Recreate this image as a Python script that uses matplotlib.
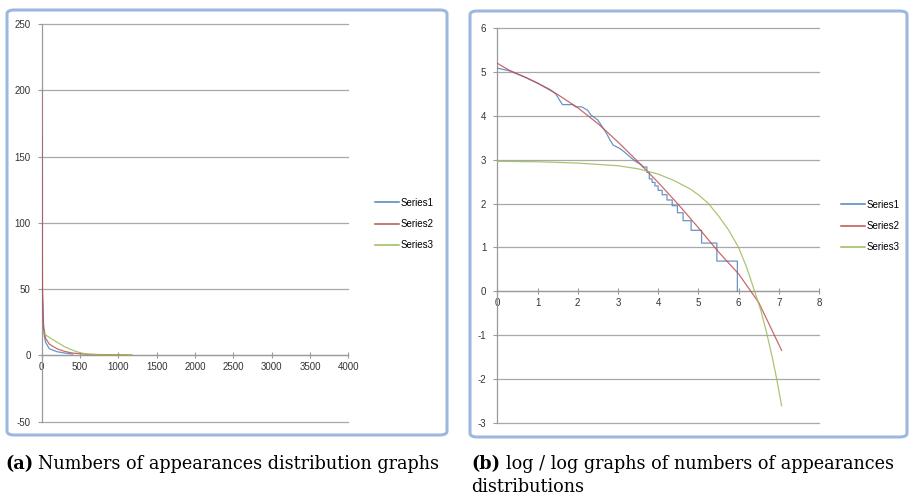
# =============================================================================
# GRAFICOS DE APARICIONES (lineal y log/log) - estilo Excel 2007
# =============================================================================
import matplotlib
matplotlib.use("Agg")
import matplotlib.pyplot as plt
from matplotlib.patches import FancyBboxPatch
from matplotlib.lines import Line2D

# =============================================================================
# DATOS
# =============================================================================

SERIES = ["Series1", "Series2", "Series3"]
COLORES = ["#4F81BD", "#C0504D", "#9BBB59"]

# (a) numeros de apariciones
a_x1 = [1, 10, 25, 50, 100, 200, 300, 403]
a_y1 = [165, 45, 18, 10, 5, 2.8, 1.8, 1]
a_x2 = [1, 10, 25, 50, 100, 200, 300, 400, 600, 1176]
a_y2 = [200, 50, 22, 13, 8.5, 5, 3, 1.8, 0.8, 0.26]
a_x3 = [1, 40, 100, 200, 300, 400, 500, 600, 800, 1176]
a_y3 = [19.3, 16, 13.5, 10, 6.5, 4, 2, 1, 0.4, 0.1]

# (b) log / log
b_x1 = [0, 0.3, 0.7, 1.0, 1.3, 1.45, 1.55, 1.62, 1.88, 1.95, 2.1, 2.25, 2.32,
        2.5, 2.7, 2.8, 2.88, 3.05, 3.15, 3.3, 3.45, 3.55, 3.63,
        3.72, 3.72, 3.78, 3.78, 3.85, 3.85, 3.92, 3.92, 4.0, 4.0, 4.1, 4.1,
        4.22, 4.22, 4.35, 4.35, 4.48, 4.48, 4.62, 4.62, 4.82, 4.82, 5.08,
        5.08, 5.46, 5.46, 5.97, 5.97]
b_y1 = [5.08, 5.02, 4.87, 4.74, 4.6, 4.5, 4.35, 4.25, 4.25, 4.2, 4.2, 4.12, 4.02,
        3.9, 3.62, 3.45, 3.33, 3.25, 3.18, 3.06, 2.95, 2.9, 2.83,
        2.83, 2.71, 2.71, 2.56, 2.56, 2.48, 2.48, 2.40, 2.40, 2.30, 2.30, 2.20,
        2.20, 2.08, 2.08, 1.95, 1.95, 1.79, 1.79, 1.61, 1.61, 1.39, 1.39,
        1.10, 1.10, 0.69, 0.69, 0.0]
b_x2 = [0, 0.3, 0.7, 1.0, 1.5, 2.0, 2.5, 3.0, 3.5, 4.0, 4.5, 5.0, 5.5, 6.0, 6.5, 7.07]
b_y2 = [5.19, 5.03, 4.87, 4.74, 4.48, 4.18, 3.82, 3.40, 2.95, 2.48, 1.98, 1.45,
        0.90, 0.40, -0.25, -1.34]
b_x3 = [0, 1, 2, 3, 3.5, 4, 4.4, 4.8, 5.0, 5.25, 5.5, 5.75, 6.0, 6.2, 6.4,
        6.55, 6.7, 6.85, 6.95, 7.07]
b_y3 = [2.96, 2.95, 2.92, 2.86, 2.79, 2.67, 2.52, 2.33, 2.20, 2.0, 1.72, 1.40,
        1.0, 0.55, 0.0, -0.42, -0.95, -1.55, -2.0, -2.6]

X_TICKS_A = list(range(0, 4001, 500))
Y_TICKS_A = list(range(-50, 251, 50))
X_TICKS_B = list(range(0, 9))
Y_TICKS_B = list(range(-3, 7))

CAPTION_A = "Numbers of appearances distribution graphs"
CAPTION_B1 = "log / log graphs of numbers of appearances"
CAPTION_B2 = "distributions"

# =============================================================================
# CONFIGURACIÓN
# =============================================================================
W, H = 909, 497
GRIS_GRID = "#A8A8A8"
GRIS_EJE = "#9A9A9A"
BORDE = "#9DB8DE"

plt.rcParams.update({
    "font.family": ["Liberation Sans", "DejaVu Sans"],
    "font.size": 7,
    "axes.unicode_minus": False,
})


def fx(px):
    return px / W


def fy(py):
    return (H - py) / H


def estilo_excel(ax, xlim, ylim, xticks, yticks):
    ax.set_xlim(*xlim)
    ax.set_ylim(*ylim)
    ax.set_xticks(xticks)
    ax.set_yticks(yticks)
    ax.set_facecolor("none")
    for s in ("top", "right"):
        ax.spines[s].set_visible(False)
    ax.spines["bottom"].set_position(("data", 0))
    for s in ("bottom", "left"):
        ax.spines[s].set_color(GRIS_EJE)
        ax.spines[s].set_linewidth(0.9)
    ax.yaxis.grid(True, color=GRIS_GRID, linewidth=0.9)
    for gl in ax.get_ygridlines():
        gl.set_clip_on(False)
    ax.set_axisbelow(True)
    ax.tick_params(axis="x", direction="inout", length=4, color=GRIS_EJE,
                   labelsize=7, pad=3, labelcolor="#333333")
    ax.tick_params(axis="y", direction="out", length=3, color=GRIS_EJE,
                   labelsize=7, pad=5, labelcolor="#333333")


def leyenda(fig, x_px, y_px):
    handles = [Line2D([], [], color=c, lw=1.1) for c in COLORES]
    fig.legend(handles, SERIES, loc="center left",
               bbox_to_anchor=(fx(x_px), fy(y_px)), frameon=False,
               fontsize=7, handlelength=2.5, handletextpad=0.15,
               labelspacing=1.15, borderpad=0, borderaxespad=0)


def marco(fig, x0, y0, x1, y1):
    p = FancyBboxPatch((fx(x0), fy(y1)), fx(x1) - fx(x0), fy(y0) - fy(y1),
                       boxstyle="round,pad=0,rounding_size=0.008",
                       transform=fig.transFigure, facecolor="white",
                       edgecolor=BORDE, linewidth=2.2, zorder=-5)
    fig.patches.append(p)


# =============================================================================
# FIGURA
# =============================================================================

fig = plt.figure(figsize=(W / 100, H / 100), dpi=100)

marco(fig, 7, 10, 447, 435)
marco(fig, 470, 11, 907, 437)

# (a)
ax_a = fig.add_axes([fx(41.7), fy(421.7), fx(348.3) - fx(41.7), fy(24) - fy(421.7)])
estilo_excel(ax_a, (0, 4000), (-50, 250), X_TICKS_A, Y_TICKS_A)
for xs, ys, c in zip([a_x1, a_x2, a_x3], [a_y1, a_y2, a_y3], COLORES):
    ax_a.plot(xs, ys, color=c, lw=0.9, alpha=0.85, zorder=3)
leyenda(fig, 375, 224)

# (b)
ax_b = fig.add_axes([fx(497.3), fy(423.3), fx(819) - fx(497.3), fy(27.7) - fy(423.3)])
estilo_excel(ax_b, (0, 8), (-3, 6), X_TICKS_B, Y_TICKS_B)
for xs, ys, c in zip([b_x1, b_x2, b_x3], [b_y1, b_y2, b_y3], COLORES):
    ax_b.plot(xs, ys, color=c, lw=0.9, alpha=0.85, zorder=3)
leyenda(fig, 841, 226)

# Pies de figura
serif = ["DejaVu Serif"]
fig.text(fx(5), fy(469), "(a)", family=serif, weight="bold", fontsize=12.7)
fig.text(fx(38), fy(469), CAPTION_A, family=serif, fontsize=12.7)
fig.text(fx(471), fy(469), "(b)", family=serif, weight="bold", fontsize=12.7)
fig.text(fx(506), fy(469), CAPTION_B1, family=serif, fontsize=12.7)
fig.text(fx(471), fy(492), CAPTION_B2, family=serif, fontsize=12.7)

fig.savefig("out.png", dpi=100, facecolor="white")
